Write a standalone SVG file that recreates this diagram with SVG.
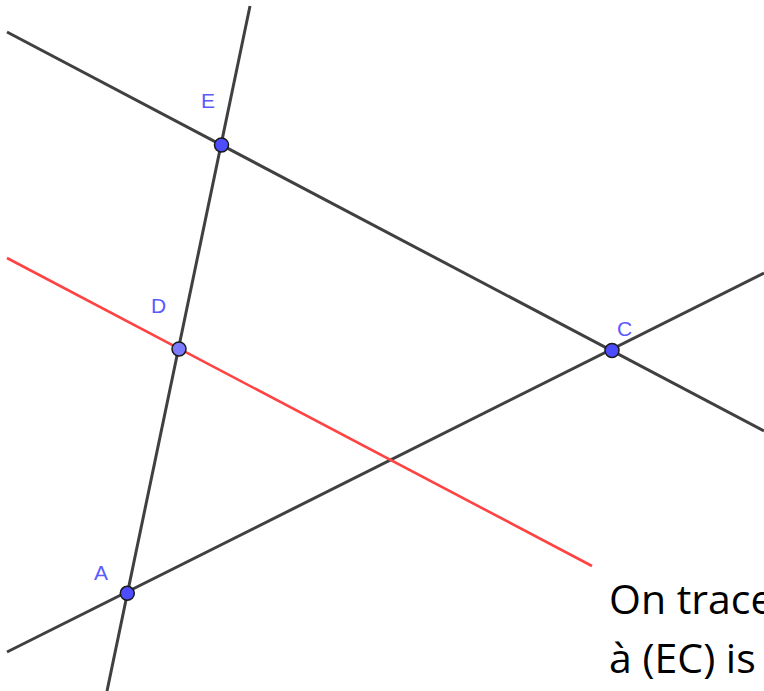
<svg xmlns="http://www.w3.org/2000/svg" width="764" height="691" viewBox="0 0 764 691">
<style>
.ln{stroke:#404040;stroke-width:3;fill:none}
.red{stroke:#ff4343;stroke-width:2.6;fill:none}
.pt{fill:#4d4dff;stroke:#1a1a1a;stroke-width:1.5}
.lbl{font-family:"Liberation Sans",Arial,sans-serif;font-size:21px;fill:#5a5aff}
.txt{font-family:"Open Sans","Liberation Sans",sans-serif;font-size:41px;fill:#000}
</style>
<rect width="764" height="691" fill="#fff"/>
<g id="connectors">
<line class="ln" x1="7" y1="32" x2="764" y2="431"/>
<line class="ln" x1="250" y1="6" x2="107" y2="691"/>
<line class="ln" x1="7" y1="652" x2="764" y2="273"/>
<line class="red" x1="7" y1="258" x2="592" y2="566"/>
</g>
<g id="E"><circle class="pt" cx="221.5" cy="145" r="7"/><text class="lbl" x="201" y="108">E</text></g>
<g id="D"><circle class="pt" cx="179" cy="349" r="7" style="fill:#7b7bff"/><text class="lbl" x="151" y="313">D</text></g>
<g id="C"><circle class="pt" cx="612" cy="350.5" r="7"/><text class="lbl" x="617" y="336">C</text></g>
<g id="A"><circle class="pt" cx="127.3" cy="593.3" r="7"/><text class="lbl" x="94" y="580">A</text></g>
<g id="caption">
<text class="txt" x="609" y="614">On trace</text>
<text class="txt" x="609" y="673">à (EC) is</text>
</g>
</svg>
